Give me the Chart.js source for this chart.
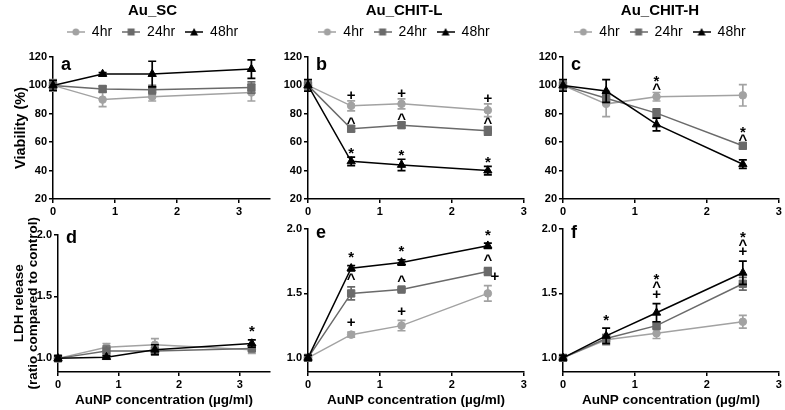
<!DOCTYPE html>
<html>
<head>
<meta charset="utf-8">
<script src="https://cdn.jsdelivr.net/npm/chart.js@4.4.1/dist/chart.umd.min.js"></script>
<style>
  body { margin: 0; background: #fff; }
  #wrap { position: relative; width: 785px; height: 410px; overflow: hidden; }
  canvas { position: absolute; }
</style>
</head>
<body>
<div id="wrap">
  <canvas id="pa" width="305" height="222" style="left:0;top:0"></canvas>
  <canvas id="pb" width="252" height="222" style="left:278px;top:0"></canvas>
  <canvas id="pc" width="250" height="222" style="left:535px;top:0"></canvas>
  <canvas id="pd" width="285" height="200" style="left:0;top:210px"></canvas>
  <canvas id="pe" width="252" height="200" style="left:278px;top:210px"></canvas>
  <canvas id="pf" width="250" height="200" style="left:535px;top:210px"></canvas>
</div>
<script>
const seriesNames = ["4hr", "24hr", "48hr"];
const seriesColors = ["#a2a2a2", "#6a6a6a", "#000000"];
const seriesMarkers = ["circle", "rect", "triangle"];
const seriesRadius = [3.8, 5.2, 4.8];

// AuNP concentrations (µg/ml)
const concSC = [0, 0.8, 1.6, 3.2];
const concCHIT = [0, 0.6, 1.3, 2.5];

const concTicks = [0, 1, 2, 3];
const viabTicks = [20, 40, 60, 80, 100, 120];
const ldhTicks = [1.0, 1.5, 2.0];

// viability (%), rows = 4hr, 24hr, 48hr
const viabSC = [[100, 90, 92, 95], [100, 97.5, 97, 98.5], [100, 108, 108, 111.5]];
const viabSCErr = [[4, 5, 3, 6], [2, 2, 3, 4], [3.5, 1, 9, 6.5]];
const viabL = [[100, 85.6, 87, 82.5], [100, 69.5, 72, 68], [100, 46.5, 44, 40]];
const viabLErr = [[3, 3.5, 3.5, 4.5], [2, 2, 2, 3], [4, 3, 4, 3]];
const viabH = [[100, 87, 92, 93], [100, 91, 80.5, 57.5], [100, 96, 72.5, 44.5]];
const viabHErr = [[3, 9, 3, 7.5], [2, 3, 3, 2], [4, 8, 4.5, 3]];

// LDH release (ratio to control)
const ldhSC = [[1.0, 1.09, 1.11, 1.07], [1.0, 1.06, 1.06, 1.08], [1.0, 1.01, 1.07, 1.12]];
const ldhSCErr = [[0.02, 0.03, 0.05, 0.03], [0.02, 0.04, 0.03, 0.02], [0.02, 0.01, 0.04, 0.03]];
const ldhL = [[1.0, 1.18, 1.25, 1.5], [1.0, 1.5, 1.53, 1.67], [1.0, 1.695, 1.74, 1.87]];
const ldhLErr = [[0.02, 0.02, 0.04, 0.06], [0.02, 0.05, 0.01, 0.03], [0.02, 0.02, 0.02, 0.02]];
const ldhH = [[1.0, 1.14, 1.19, 1.28], [1.0, 1.15, 1.25, 1.575], [1.0, 1.17, 1.35, 1.66]];
const ldhHErr = [[0.02, 0.04, 0.04, 0.05], [0.02, 0.03, 0.03, 0.05], [0.02, 0.06, 0.07, 0.09]];

// significance marks: [point index, series index, symbols bottom-up, x shift]
const marksViabL = [[1, 0, ["+"]], [2, 0, ["+"]], [3, 0, ["+"]], [1, 1, ["^"]], [2, 1, ["^"]], [3, 1, ["^"]],
                    [1, 2, ["*"]], [2, 2, ["*"]], [3, 2, ["*"]]];
const marksViabH = [[2, 0, ["^", "*"]], [3, 1, ["^", "*"]]];
const marksLdhSC = [[3, 2, ["*"]]];
const marksLdhL = [[1, 0, ["+"]], [2, 0, ["+"]], [3, 0, ["+"], 7], [1, 1, ["^"]], [2, 1, ["^"]], [3, 1, ["^"]],
                   [1, 2, ["*"]], [2, 2, ["*"]], [3, 2, ["*"]]];
const marksLdhH = [[1, 2, ["*"]], [2, 2, ["+", "^", "*"]], [3, 2, ["+", "^", "*"]]];

const FONT = '"Liberation Sans", Arial, sans-serif';
Chart.defaults.font.family = FONT;
Chart.defaults.color = "#000";

// small line+marker icons for the legend
function legendIcon(s) {
    let c = document.createElement("canvas");
    c.width = 18; c.height = 10;
    let g = c.getContext("2d");
    g.strokeStyle = seriesColors[s];
    g.fillStyle = seriesColors[s];
    g.lineWidth = 1.5;
    g.beginPath(); g.moveTo(0, 5); g.lineTo(18, 5); g.stroke();
    g.beginPath();
    if (s === 0) g.arc(9, 5, 3.5, 0, Math.PI * 2);
    else if (s === 1) g.rect(5.5, 1.5, 7, 7);
    else { g.moveTo(9, 1); g.lineTo(13, 8.5); g.lineTo(5, 8.5); g.closePath(); }
    g.fill();
    return c;
}
const legendIcons = seriesNames.map((n, s) => legendIcon(s));

const errorBars = {
    id: "errorBars",
    beforeDatasetDraw(chart, args) {
        let ds = chart.data.datasets[args.index];
        let y = chart.scales.y;
        let ctx = chart.ctx;
        ctx.save();
        ctx.strokeStyle = ds.borderColor;
        ctx.lineWidth = 1.7;
        args.meta.data.forEach((pt, i) => {
            let top = y.getPixelForValue(ds.data[i].y + ds.errors[i]);
            let bot = y.getPixelForValue(ds.data[i].y - ds.errors[i]);
            ctx.beginPath();
            ctx.moveTo(pt.x, top); ctx.lineTo(pt.x, bot);
            ctx.moveTo(pt.x - 4, top); ctx.lineTo(pt.x + 4, top);
            ctx.moveTo(pt.x - 4, bot); ctx.lineTo(pt.x + 4, bot);
            ctx.stroke();
        });
        ctx.restore();
    }
};

// height of each glyph's visual centre above the baseline (15px bold)
const glyphMid = { "+": 5.2, "^": 7.5, "*": 8.5 };

function marksPlugin(marks) {
    return {
        id: "sigMarks",
        afterDatasetsDraw(chart) {
            let ctx = chart.ctx;
            ctx.save();
            ctx.font = "bold 15px " + FONT;
            ctx.fillStyle = "#000";
            ctx.textAlign = "center";
            marks.forEach(m => {
                let ds = chart.data.datasets[m[1]];
                let pt = chart.getDatasetMeta(m[1]).data[m[0]];
                let barTop = chart.scales.y.getPixelForValue(ds.data[m[0]].y + ds.errors[m[0]]);
                m[2].forEach((sym, k) => {
                    let lift = 10 + 9 * k + (sym === "*" && k === 0 ? 2 : 0);
                    ctx.fillText(sym, pt.x + (m[3] || 0), barTop - lift + glyphMid[sym]);
                });
            });
            ctx.restore();
        }
    };
}

function letterPlugin(letter) {
    return {
        id: "panelLetter",
        afterDraw(chart) {
            let ctx = chart.ctx;
            let a = chart.chartArea;
            ctx.save();
            ctx.font = "bold 18px " + FONT;
            ctx.fillStyle = "#000";
            ctx.fillText(letter, a.left + 8, a.top + 8.5);
            ctx.restore();
        }
    };
}

function makePanel(id, p) {
    let datasets = seriesNames.map((name, s) => ({
        label: name,
        data: p.conc.map((x, i) => ({ x: x, y: p.mean[s][i] })),
        errors: p.err[s],
        borderColor: seriesColors[s],
        backgroundColor: seriesColors[s],
        borderWidth: 1.5,
        pointStyle: seriesMarkers[s],
        pointRadius: seriesRadius[s],
        pointBorderWidth: 1,
        order: 2 - s,
        clip: false,
        xAxisID: "x",
        yAxisID: "y"
    }));

    let tickFont = { size: 11, weight: "bold" };
    let scales = {
        x: {
            type: "linear", min: 0, max: p.xMax,
            afterBuildTicks: s => { s.ticks = concTicks.map(v => ({ value: v })); },
            ticks: { font: tickFont, padding: 2, callback: v => String(v) },
            grid: { drawOnChartArea: false, tickLength: 4, color: "#000", lineWidth: 1.5 },
            border: { color: "#000", width: 1.5 },
            title: p.top ? { display: false } : {
                display: true, text: "AuNP concentration (µg/ml)",
                font: { size: 13.5, weight: "bold" }, padding: { top: 0, bottom: 2 }
            },
            afterFit: s => { s.height = p.xH; }
        },
        y: {
            type: "linear", min: p.yMin, max: p.yMax,
            afterBuildTicks: s => { s.ticks = p.yTicks.map(v => ({ value: v })); },
            ticks: { font: tickFont, padding: 2, callback: v => p.top ? String(v) : v.toFixed(1) },
            grid: { drawOnChartArea: false, tickLength: 4, color: "#000", lineWidth: 1.5 },
            border: { color: "#000", width: 1.5 },
            title: p.yTitle ? {
                display: true, text: p.yTitle,
                font: { size: p.top ? 14.5 : 13.5, weight: "bold", lineHeight: p.top ? 1.2 : 1.1 },
                padding: { top: p.yTitlePad, bottom: 0 }
            } : { display: false },
            afterFit: s => { s.width = p.yW; }
        },
        yRight: {
            type: "linear", position: "right", display: true,
            grid: { display: false }, border: { display: false }, ticks: { display: false },
            afterFit: s => { s.width = p.padR; }
        }
    };
    if (p.top) {
        scales.xTop = {
            type: "linear", position: "top", display: true,
            grid: { display: false }, border: { display: false }, ticks: { display: false },
            afterFit: s => { s.height = 8; }
        };
    }

    new Chart(document.getElementById(id), {
        type: "line",
        data: { datasets: datasets },
        options: {
            responsive: false,
            animation: false,
            layout: { padding: { top: p.padTop || 0 } },
            scales: scales,
            plugins: {
                title: p.title ? {
                    display: true, text: p.title,
                    font: { size: 15, weight: "bold" }, color: "#000",
                    padding: { top: 2, bottom: -5 }
                } : { display: false },
                legend: p.title ? {
                    display: true, position: "top",
                    labels: {
                        usePointStyle: true, pointStyleWidth: 18, padding: 10,
                        font: { size: 14 }, color: "#222",
                        generateLabels: chart => chart.data.datasets.map((ds, s) => ({
                            text: ds.label, pointStyle: legendIcons[s],
                            fillStyle: ds.borderColor, strokeStyle: ds.borderColor,
                            lineWidth: 0, hidden: false, datasetIndex: s
                        }))
                    }
                } : { display: false },
                tooltip: { enabled: false }
            }
        },
        plugins: [errorBars, marksPlugin(p.marks), letterPlugin(p.letter)]
    });
}

let topBase = { top: true, yMin: 20, yMax: 120, yTicks: viabTicks, xH: 23 };
let botBase = { top: false, yMin: 0.89, yMax: 2.0, yTicks: ldhTicks, xH: 38 };

makePanel("pa", Object.assign({}, topBase, { title: "Au_SC", letter: "a", conc: concSC, xMax: 3.5,
    mean: viabSC, err: viabSCErr, marks: [], yW: 53, padR: 35, yTitle: "Viability (%)", yTitlePad: 12 }));
makePanel("pb", Object.assign({}, topBase, { title: "Au_CHIT-L", letter: "b", conc: concCHIT, xMax: 3,
    mean: viabL, err: viabLErr, marks: marksViabL, yW: 30, padR: 5 }));
makePanel("pc", Object.assign({}, topBase, { title: "Au_CHIT-H", letter: "c", conc: concCHIT, xMax: 3,
    mean: viabH, err: viabHErr, marks: marksViabH, yW: 28, padR: 5 }));
makePanel("pd", Object.assign({}, botBase, { letter: "d", conc: concSC, xMax: 3.5, padTop: 24.5,
    mean: ldhSC, err: ldhSCErr, marks: marksLdhSC, yW: 58, padR: 15,
    yTitle: ["LDH release", "(ratio compared to control)"], yTitlePad: 11.5 }));
makePanel("pe", Object.assign({}, botBase, { letter: "e", conc: concCHIT, xMax: 3, padTop: 19,
    mean: ldhL, err: ldhLErr, marks: marksLdhL, yW: 30, padR: 5 }));
makePanel("pf", Object.assign({}, botBase, { letter: "f", conc: concCHIT, xMax: 3, padTop: 19,
    mean: ldhH, err: ldhHErr, marks: marksLdhH, yW: 28, padR: 5 }));
</script>
</body>
</html>
